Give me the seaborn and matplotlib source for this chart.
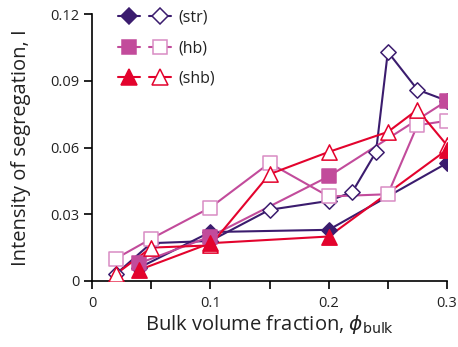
import matplotlib
matplotlib.use("Agg")
import matplotlib.pyplot as plt
from matplotlib.lines import Line2D
from matplotlib.legend_handler import HandlerTuple
from matplotlib.ticker import MultipleLocator
import seaborn as sns
import pandas as pd

# ---- data ----
str_filled_x = [0.04, 0.1, 0.2, 0.3]
str_filled_y = [0.006, 0.022, 0.023, 0.053]
str_open_x = [0.02, 0.05, 0.1, 0.15, 0.2, 0.22, 0.24, 0.25, 0.275, 0.3]
str_open_y = [0.003, 0.017, 0.018, 0.032, 0.036, 0.040, 0.058, 0.103, 0.086, 0.081]

hb_filled_x = [0.04, 0.1, 0.2, 0.3]
hb_filled_y = [0.008, 0.020, 0.047, 0.081]
hb_open_x = [0.02, 0.05, 0.1, 0.15, 0.2, 0.25, 0.275, 0.3]
hb_open_y = [0.010, 0.019, 0.033, 0.053, 0.038, 0.039, 0.070, 0.072]

shb_filled_x = [0.04, 0.1, 0.2, 0.3]
shb_filled_y = [0.005, 0.017, 0.020, 0.059]
shb_open_x = [0.02, 0.05, 0.1, 0.15, 0.2, 0.25, 0.275, 0.3]
shb_open_y = [0.003, 0.015, 0.016, 0.048, 0.058, 0.067, 0.077, 0.061]

labels = ["(str)", "(hb)", "(shb)"]
x_ticks = [0, 0.1, 0.2, 0.3]
x_tick_labels = ["0", "0.1", "0.2", "0.3"]
y_ticks = [0, 0.03, 0.06, 0.09, 0.12]
y_tick_labels = ["0", "0.03", "0.06", "0.09", "0.12"]

C_STR = "#3b1c6e"
C_HB = "#c24b9b"
C_HB_OPEN = "#d98cc3"
C_SHB = "#e3032d"

sns.set_theme(style="ticks")
plt.rcParams["font.family"] = ["Open Sans", "DejaVu Sans"]
plt.rcParams["mathtext.fontset"] = "dejavusans"

fig = plt.figure(figsize=(4.58, 3.47), dpi=100)
ax = fig.add_axes([92 / 458, 1 - 281 / 347, (447 - 92) / 458, (281 - 14) / 347])

series = [
    # (x, y, marker, ms, line color, edge color, face color)
    (str_open_x, str_open_y, "D", 7.8, C_STR, C_STR, "white"),
    (str_filled_x, str_filled_y, "D", 7.8, C_STR, C_STR, C_STR),
    (hb_open_x, hb_open_y, "s", 10.5, C_HB, C_HB_OPEN, "white"),
    (hb_filled_x, hb_filled_y, "s", 10.5, C_HB, C_HB, C_HB),
    (shb_open_x, shb_open_y, "^", 11, C_SHB, C_SHB, "white"),
    (shb_filled_x, shb_filled_y, "^", 11, C_SHB, C_SHB, C_SHB),
]

for i, (xs, ys, m, ms, lc, ec, fc) in enumerate(series):
    df = pd.DataFrame({"x": xs, "y": ys})
    sns.lineplot(data=df, x="x", y="y", ax=ax, sort=False, estimator=None,
                 color=lc, linewidth=1.5, zorder=2 + i * 0.1)
    sns.scatterplot(data=df, x="x", y="y", ax=ax, marker=m, s=ms ** 2,
                    facecolor=fc, edgecolor=ec, linewidth=1.1, zorder=3 + i * 0.1)

ax.set_xlim(0, 0.3)
ax.set_ylim(0, 0.12)
ax.set_xticks(x_ticks)
ax.set_xticklabels(x_tick_labels)
ax.xaxis.set_minor_locator(MultipleLocator(0.05))
ax.set_yticks(y_ticks)
ax.set_yticklabels(y_tick_labels)
ax.tick_params(axis="both", which="both", direction="out", length=6, width=1.2,
               color="black", labelsize=10.5, labelcolor="#222222")
ax.tick_params(axis="x", pad=5)
ax.tick_params(axis="y", pad=3)
for s in ["top", "right"]:
    ax.spines[s].set_visible(False)
for s in ["left", "bottom"]:
    ax.spines[s].set_linewidth(1.2)
    ax.spines[s].set_color("black")

ax.set_xlabel(r"Bulk volume fraction, $\phi_{\mathrm{bulk}}$", fontsize=14.5, color="#222222")
ax.set_ylabel("Intensity of segregation, I", fontsize=14.5, color="#222222")
ax.xaxis.set_label_coords(0.5, -0.12)
ax.yaxis.set_label_coords(-0.172, 0.5)

# legend
handles = []
for m, ms, lc, ec, fc_open, fc_fill in [
    ("D", 7.8, C_STR, C_STR, "white", C_STR),
    ("s", 10.5, C_HB, C_HB_OPEN, "white", C_HB),
    ("^", 11, C_SHB, C_SHB, "white", C_SHB),
]:
    h_fill = Line2D([], [], color=lc, lw=1.5, marker=m, markersize=ms,
                    markerfacecolor=fc_fill, markeredgecolor=lc, markeredgewidth=1.1)
    h_open = Line2D([], [], color=lc, lw=1.5, marker=m, markersize=ms,
                    markerfacecolor=fc_open, markeredgecolor=ec, markeredgewidth=1.1)
    handles.append((h_fill, h_open))

leg = fig.legend(handles, labels, handler_map={tuple: HandlerTuple(ndivide=None, pad=0.6)},
                 loc="upper left", bbox_to_anchor=(118 / 458, 1 - 10 / 347),
                 frameon=False, fontsize=11.5, handlelength=3.3, handletextpad=0.5,
                 labelspacing=0.9, borderpad=0, borderaxespad=0)
for t in leg.get_texts():
    t.set_color("#222222")

fig.savefig("out.png", dpi=100)
